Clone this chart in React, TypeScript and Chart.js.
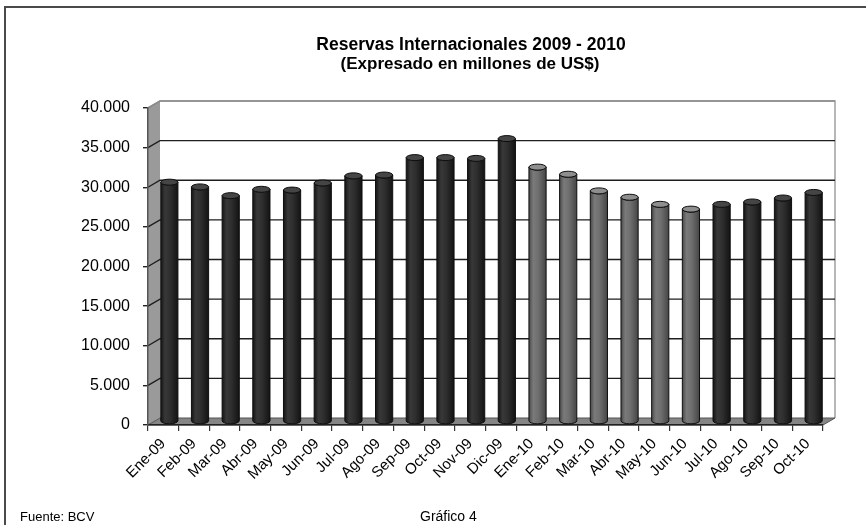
import React, { useEffect, useRef } from 'react';
import { Chart, registerables } from 'chart.js';

Chart.register(...registerables);

const categories = [
  'Ene-09', 'Feb-09', 'Mar-09', 'Abr-09', 'May-09', 'Jun-09', 'Jul-09', 'Ago-09',
  'Sep-09', 'Oct-09', 'Nov-09', 'Dic-09', 'Ene-10', 'Feb-10', 'Mar-10', 'Abr-10',
  'May-10', 'Jun-10', 'Jul-10', 'Ago-10', 'Sep-10', 'Oct-10',
];

const reserves = [
  30200, 29600, 28500, 29300, 29200, 30100, 31000, 31100,
  33300, 33300, 33200, 35700, 32100, 31200, 29100, 28300,
  27400, 26800, 27400, 27700, 28200, 28900,
];

// 'd' = dark bar, 'g' = grey bar
const barShades = [
  'd', 'd', 'd', 'd', 'd', 'd', 'd', 'd', 'd', 'd', 'd', 'd',
  'g', 'g', 'g', 'g', 'g', 'g',
  'd', 'd', 'd', 'd',
];

const yTickValues = [0, 5000, 10000, 15000, 20000, 25000, 30000, 35000, 40000];

const titleLines = ['Reservas Internacionales 2009 - 2010', '(Expresado en millones de US$)'];
const sourceText = 'Fuente: BCV';
const figureText = 'Gráfico 4';

const DX = 12;
const DY = -7;
const FONT = '"Liberation Sans", Arial, sans-serif';

const fmt = (v: number) => String(v).replace(/\B(?=(\d{3})+(?!\d))/g, '.');

const threeDPlugin = {
  id: 'threeD',
  beforeDraw(chart: any) {
    const ctx = chart.ctx as CanvasRenderingContext2D;
    const { left, right, top, bottom } = chart.chartArea;
    const ys = chart.scales.y;
    ctx.save();
    ctx.fillStyle = '#ffffff';
    ctx.fillRect(0, 0, chart.width, chart.height);

    // side wall
    ctx.beginPath();
    ctx.moveTo(left, top);
    ctx.lineTo(left + DX, top + DY);
    ctx.lineTo(left + DX, bottom + DY);
    ctx.lineTo(left, bottom);
    ctx.closePath();
    ctx.fillStyle = '#9a9a9a';
    ctx.fill();

    // back wall
    ctx.fillStyle = '#ffffff';
    ctx.fillRect(left + DX, top + DY, right - left, bottom - top);
    ctx.strokeStyle = '#a0a0a0';
    ctx.lineWidth = 1.5;
    ctx.beginPath();
    ctx.moveTo(left, top);
    ctx.lineTo(left + DX, top + DY);
    ctx.lineTo(right + DX, top + DY);
    ctx.lineTo(right + DX, bottom + DY);
    ctx.stroke();

    // floor
    ctx.beginPath();
    ctx.moveTo(left, bottom);
    ctx.lineTo(right, bottom);
    ctx.lineTo(right + DX, bottom + DY);
    ctx.lineTo(left + DX, bottom + DY);
    ctx.closePath();
    ctx.fillStyle = '#858585';
    ctx.fill();
    ctx.strokeStyle = '#555';
    ctx.lineWidth = 1;
    ctx.stroke();

    // gridlines
    for (const v of yTickValues) {
      if (v === 0) continue;
      const py = ys.getPixelForValue(v);
      ctx.strokeStyle = v === 40000 ? '#8a8a8a' : '#1e1e1e';
      ctx.lineWidth = v === 40000 ? 1.5 : 1.4;
      ctx.beginPath();
      ctx.moveTo(left, py);
      ctx.lineTo(left + DX, py + DY);
      ctx.lineTo(right + DX, py + DY);
      ctx.stroke();
    }
    ctx.restore();
  },
  afterDatasetsDraw(chart: any) {
    const ctx = chart.ctx as CanvasRenderingContext2D;
    const meta = chart.getDatasetMeta(0);
    ctx.save();
    meta.data.forEach((el: any, i: number) => {
      const p = el.getProps(['x', 'y', 'base', 'width'], true);
      const cx = p.x + DX / 2;
      const top = p.y + DY / 2;
      const bot = p.base + DY / 2;
      const rx = p.width / 2;
      const ry = 3;
      const dark = barShades[i] === 'd';
      const g = ctx.createLinearGradient(cx - rx, 0, cx + rx, 0);
      if (dark) {
        g.addColorStop(0, '#151515');
        g.addColorStop(0.25, '#383838');
        g.addColorStop(0.55, '#2e2e2e');
        g.addColorStop(1, '#131313');
      } else {
        g.addColorStop(0, '#4a4a4a');
        g.addColorStop(0.25, '#7a7a7a');
        g.addColorStop(0.55, '#6e6e6e');
        g.addColorStop(1, '#454545');
      }
      ctx.beginPath();
      ctx.moveTo(cx - rx, top);
      ctx.lineTo(cx - rx, bot);
      ctx.ellipse(cx, bot, rx, ry, 0, Math.PI, 0, true);
      ctx.lineTo(cx + rx, top);
      ctx.ellipse(cx, top, rx, ry, 0, 0, Math.PI, false);
      ctx.closePath();
      ctx.fillStyle = g;
      ctx.fill();
      ctx.strokeStyle = '#0e0e0e';
      ctx.lineWidth = 1;
      ctx.stroke();
      // top cap
      ctx.beginPath();
      ctx.ellipse(cx, top, rx, ry, 0, 0, Math.PI * 2);
      ctx.fillStyle = dark ? '#454545' : '#8e8e8e';
      ctx.fill();
      ctx.strokeStyle = '#0e0e0e';
      ctx.stroke();
    });
    ctx.restore();
  },
  afterDraw(chart: any) {
    const ctx = chart.ctx as CanvasRenderingContext2D;
    ctx.save();
    ctx.fillStyle = '#000';
    ctx.textAlign = 'center';
    ctx.textBaseline = 'middle';
    ctx.font = `bold 17.5px ${FONT}`;
    ctx.fillText(titleLines[0], 471, 45);
    ctx.font = `bold 17px ${FONT}`;
    ctx.fillText(titleLines[1], 470, 64);
    ctx.textAlign = 'left';
    ctx.font = `13px ${FONT}`;
    ctx.fillText(sourceText, 20, 517);
    ctx.font = `14px ${FONT}`;
    ctx.fillText(figureText, 420, 517);
    // frame
    ctx.strokeStyle = '#4a4a4a';
    ctx.lineWidth = 2;
    ctx.beginPath();
    ctx.moveTo(5, 530);
    ctx.lineTo(5, 7);
    ctx.lineTo(870, 7);
    ctx.stroke();
    ctx.restore();
  },
};

export default function App() {
  const ref = useRef<HTMLCanvasElement | null>(null);
  useEffect(() => {
    if (!ref.current) return;
    const chart = new Chart(ref.current, {
      type: 'bar',
      data: {
        labels: categories,
        datasets: [
          {
            data: reserves,
            backgroundColor: 'rgba(0,0,0,0)',
            borderWidth: 0,
            categoryPercentage: 1,
            barPercentage: 0.56,
          },
        ],
      },
      options: {
        animation: false,
        responsive: true,
        maintainAspectRatio: false,
        devicePixelRatio: 1,
        layout: { padding: { top: 108, right: 43, left: 0, bottom: 0 } },
        plugins: { legend: { display: false }, tooltip: { enabled: false }, title: { display: false } },
        scales: {
          x: {
            grid: { drawOnChartArea: false, tickLength: 6, color: '#333', lineWidth: 1.2, offset: true },
            border: { color: '#222', width: 1.5 },
            ticks: { maxRotation: 45, minRotation: 45, autoSkip: false, padding: 4, color: '#000', font: { family: FONT, size: 15 } },
            afterFit: (s: any) => { s.height = 100; },
          },
          y: {
            min: 0,
            max: 40000,
            grid: { drawOnChartArea: false, tickLength: 5, color: '#222', lineWidth: 1.4 },
            border: { color: '#555', width: 1.5 },
            ticks: {
              stepSize: 5000,
              padding: 13,
              color: '#000',
              font: { family: FONT, size: 16 },
              callback: (v: any) => fmt(Number(v)),
            },
            afterFit: (s: any) => { s.width = 148; },
          },
        },
      },
      plugins: [threeDPlugin],
    });
    return () => chart.destroy();
  }, []);
  return (
    <div style={{ position: 'fixed', left: 0, top: 0, width: 866, height: 525, background: '#fff' }}>
      <canvas ref={ref} />
    </div>
  );
}
